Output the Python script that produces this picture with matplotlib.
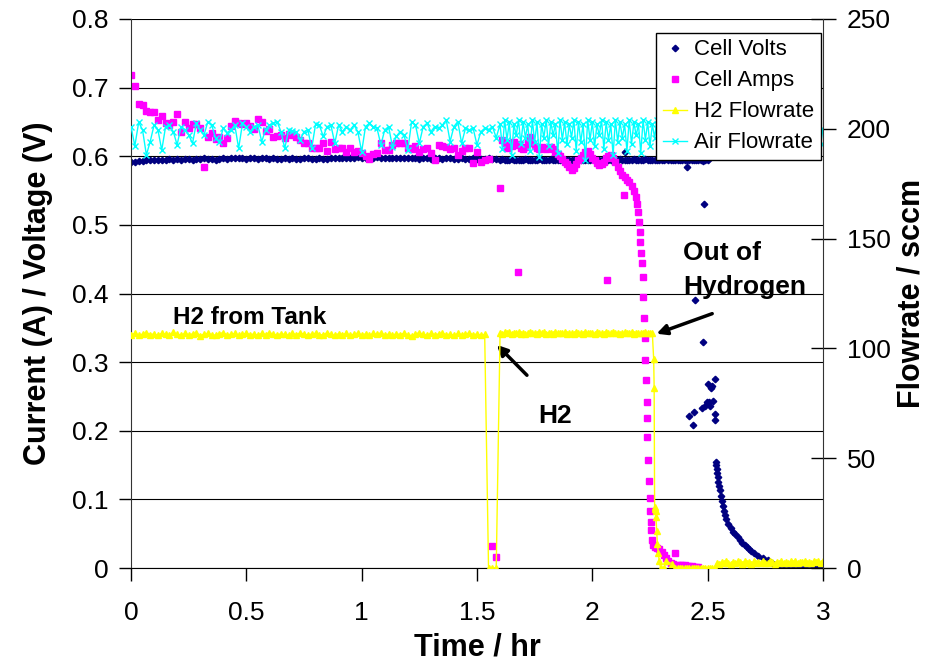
import numpy as np
import matplotlib
matplotlib.use('Agg')
import matplotlib.pyplot as plt

plt.rcParams['font.family'] = ['Liberation Sans', 'DejaVu Sans']

# ---- data ----
# logger: 1-minute samples until 1.6 hr, then faster samples
t_slow = np.arange(96) / 60.0
t_fast = np.round(np.arange(1.60, 3.0001, 0.01), 2)

volts_slow = [0.591, 0.592, 0.593, 0.593, 0.594, 0.594, 0.595, 0.594, 0.595, 0.595,
              0.596, 0.595, 0.596, 0.595, 0.596, 0.596, 0.595, 0.596, 0.596, 0.597,
              0.596, 0.596, 0.595, 0.596, 0.597, 0.596, 0.597, 0.597, 0.598, 0.597,
              0.596, 0.597, 0.597, 0.596, 0.597, 0.597, 0.596, 0.597, 0.596, 0.596,
              0.597, 0.596, 0.597, 0.596, 0.596, 0.597, 0.597, 0.596, 0.596, 0.597,
              0.596, 0.596, 0.597, 0.598, 0.597, 0.598, 0.598, 0.597, 0.598, 0.599,
              0.598, 0.598, 0.597, 0.598, 0.599, 0.598, 0.597, 0.597, 0.598, 0.598,
              0.597, 0.597, 0.598, 0.597, 0.597, 0.596, 0.597, 0.597, 0.596, 0.597,
              0.597, 0.596, 0.597, 0.597, 0.596, 0.596, 0.597, 0.596, 0.596, 0.597,
              0.596, 0.596, 0.596, 0.597, 0.596, 0.596]
volts_fast = [0.595, 0.596, 0.595, 0.594, 0.595, 0.596, 0.595, 0.595, 0.594, 0.595,
              0.595, 0.596, 0.595, 0.595, 0.594, 0.595, 0.595, 0.596, 0.595, 0.594,
              0.595, 0.595, 0.596, 0.595, 0.595, 0.594, 0.595, 0.596, 0.595, 0.595,
              0.595, 0.594, 0.595, 0.595, 0.596, 0.595, 0.595, 0.594, 0.595, 0.595,
              0.596, 0.595, 0.595, 0.594, 0.595, 0.596, 0.595, 0.595, 0.594, 0.595,
              0.595, 0.595, 0.596, 0.595, 0.595, 0.594, 0.595, 0.595, 0.596, 0.595,
              0.594, 0.595, 0.595, 0.596, 0.595, 0.594, 0.595, 0.595, 0.595, 0.594,
              0.595, 0.595, 0.596, 0.595, 0.594, 0.595, 0.595, 0.594, 0.595, 0.595,
              0.594, 0.595, 0.595, 0.594, 0.595, 0.594, 0.595, 0.594, 0.593, 0.594,
              0.594]
volts_odd_t = [2.14, 2.41, 2.417, 2.438, 2.44, 2.445, 2.477, 2.48, 2.482, 2.49,
               2.495, 2.50, 2.505, 2.51, 2.515, 2.52, 2.525, 2.53, 2.53, 2.533]
volts_odd_v = [0.606, 0.585, 0.222, 0.208, 0.227, 0.390, 0.233, 0.330, 0.530, 0.236,
               0.242, 0.268, 0.242, 0.236, 0.262, 0.265, 0.244, 0.225, 0.215, 0.275]
volts_decay_t = [2.535, 2.537, 2.539, 2.541, 2.543, 2.546, 2.549, 2.552, 2.556, 2.560,
                 2.565, 2.570, 2.575, 2.580, 2.590, 2.600, 2.610, 2.620, 2.630, 2.640,
                 2.650, 2.660, 2.670, 2.680, 2.690, 2.700, 2.720, 2.740, 2.760, 2.780,
                 2.800, 2.820, 2.840, 2.860, 2.880, 2.900, 2.920, 2.940, 2.960, 2.980, 3.000]
volts_decay_v = [0.155, 0.150, 0.144, 0.138, 0.133, 0.126, 0.119, 0.113, 0.105, 0.098,
                 0.090, 0.083, 0.077, 0.072, 0.064, 0.058, 0.053, 0.049, 0.045, 0.041,
                 0.037, 0.034, 0.030, 0.027, 0.025, 0.022, 0.018, 0.014, 0.011, 0.008,
                 0.005, 0.003, 0.001, 0.000, 0.000, 0.000, 0.000, 0.000, 0.000, 0.000, 0.000]

amps_slow = [0.719, 0.703, 0.676, 0.675, 0.666, 0.665, 0.665, 0.653, 0.659, 0.649,
             0.646, 0.650, 0.662, 0.636, 0.650, 0.641, 0.647, 0.647, 0.641, 0.585,
             0.628, 0.634, 0.625, 0.628, 0.620, 0.627, 0.644, 0.652, 0.649, 0.647,
             0.649, 0.644, 0.640, 0.655, 0.650, 0.637, 0.640, 0.628, 0.630, 0.631,
             0.627, 0.633, 0.631, 0.628, 0.624, 0.620, 0.620, 0.612, 0.612, 0.612,
             0.620, 0.608, 0.621, 0.611, 0.612, 0.612, 0.606, 0.612, 0.606, 0.608,
             0.605, 0.600, 0.596, 0.603, 0.605, 0.620, 0.609, 0.609, 0.617, 0.620,
             0.620, 0.620, 0.612, 0.610, 0.615, 0.606, 0.611, 0.612, 0.605, 0.595,
             0.617, 0.615, 0.614, 0.611, 0.612, 0.602, 0.608, 0.612, 0.612, 0.590,
             0.606, 0.592, 0.595, 0.596, 0.032, 0.016]
amps_fast_t = [1.60, 1.61, 1.62, 1.63, 1.64, 1.65, 1.66, 1.67, 1.677, 1.68,
               1.69, 1.70, 1.71, 1.72, 1.73, 1.74, 1.75, 1.76, 1.77, 1.78,
               1.79, 1.80, 1.81, 1.82, 1.83, 1.84, 1.85, 1.86, 1.87, 1.88,
               1.89, 1.90, 1.91, 1.92, 1.93, 1.94, 1.95, 1.96, 1.97, 1.98,
               1.99, 2.00, 2.01, 2.02, 2.03, 2.04, 2.05, 2.06, 2.062, 2.07,
               2.08, 2.09, 2.10, 2.11, 2.12, 2.13, 2.136, 2.14, 2.15, 2.16,
               2.17, 2.18, 2.19, 2.195, 2.200, 2.203, 2.206, 2.208, 2.211, 2.214,
               2.218, 2.221, 2.226, 2.228, 2.230, 2.233, 2.235, 2.236, 2.239, 2.243,
               2.246, 2.248, 2.251, 2.253, 2.255, 2.257, 2.262, 2.27, 2.28, 2.29,
               2.30, 2.31, 2.32, 2.33, 2.34, 2.35, 2.36, 2.37, 2.38, 2.39,
               2.40, 2.41, 2.42, 2.43, 2.44, 2.45, 2.46]
amps_fast_v = [0.554, 0.624, 0.620, 0.612, 0.620, 0.615, 0.621, 0.616, 0.431, 0.618,
               0.612, 0.610, 0.614, 0.620, 0.628, 0.619, 0.615, 0.612, 0.610, 0.614,
               0.612, 0.610, 0.612, 0.614, 0.610, 0.606, 0.604, 0.600, 0.596, 0.592,
               0.588, 0.584, 0.580, 0.583, 0.588, 0.594, 0.598, 0.602, 0.606, 0.608,
               0.604, 0.598, 0.594, 0.590, 0.587, 0.588, 0.592, 0.597, 0.420, 0.601,
               0.602, 0.598, 0.592, 0.585, 0.578, 0.572, 0.544, 0.570, 0.566, 0.563,
               0.557, 0.550, 0.540, 0.530, 0.519, 0.504, 0.490, 0.475, 0.459, 0.445,
               0.424, 0.395, 0.364, 0.335, 0.303, 0.274, 0.242, 0.219, 0.191, 0.157,
               0.127, 0.102, 0.083, 0.067, 0.055, 0.041, 0.033, 0.030, 0.029, 0.027,
               0.024, 0.019, 0.014, 0.010, 0.007, 0.006, 0.022, 0.005, 0.005, 0.004,
               0.004, 0.003, 0.003, 0.003, 0.002, 0.002, 0.002]

h2_slow = [106.2, 106.8, 106.0, 106.5, 107.2, 106.3, 106.6, 105.9, 106.9, 106.4,
           106.1, 107.3, 106.5, 106.0, 106.8, 106.2, 106.6, 107.1, 105.8, 106.5,
           106.9, 106.3, 106.0, 106.7, 107.2, 106.1, 106.5, 106.8, 105.9, 106.4,
           107.0, 106.2, 106.6, 106.0, 106.9, 106.3, 107.2, 106.5, 106.1, 106.7,
           106.4, 105.9, 106.8, 106.2, 107.1, 106.5, 106.0, 106.6, 106.9, 106.3,
           106.1, 107.2, 106.4, 105.9, 106.7, 106.3, 106.8, 106.0, 106.5, 107.0,
           106.2, 106.6, 105.9, 106.8, 106.4, 107.1, 106.1, 106.5, 106.0, 106.7,
           106.3, 106.9, 106.2, 105.8, 106.6, 107.2, 106.4, 106.0, 106.8, 106.3,
           106.5, 107.0, 106.1, 106.6, 105.9, 106.8, 106.3, 106.5, 107.1, 106.2,
           106.6, 106.0, 106.4, 0.0, 0.0, 0.0]
h2_fast = [107.0, 106.5, 107.3, 106.8, 107.5, 106.6, 107.1, 106.9, 107.4, 106.7,
           107.2, 106.5, 107.0, 107.6, 106.8, 107.1, 106.6, 107.3, 106.9, 107.4,
           106.7, 107.2, 107.0, 106.5, 107.5, 106.8, 107.1, 106.9, 107.3, 106.6,
           107.2, 107.0, 106.7, 107.4, 106.9, 107.1, 106.5, 107.3, 106.8, 107.2,
           107.0, 106.6, 107.5, 106.9, 107.1, 106.7, 107.3, 107.0, 106.8, 107.4,
           106.9, 107.2, 106.6, 107.1, 107.3, 106.8, 107.0, 107.4, 106.7, 107.2,
           106.9, 107.1, 106.8, 107.3, 107.0, 106.9, 107.2]
h2_drop_t = [2.266, 2.268, 2.270, 2.272, 2.274, 2.276, 2.279, 2.282, 2.286, 2.290,
             2.296, 2.31, 2.32, 2.345, 2.36]
h2_drop_v = [95, 82, 28, 27, 26, 23, 17, 11, 7, 3, 0, 0, 3, 2, 0]
h2_tail = [0.0] * 17 + [2.4, 1.8, 2.9, 2.1, 3.2, 2.5, 1.9, 2.8, 2.2, 3.0,
                        2.6, 2.0, 3.3, 2.3, 2.7, 1.9, 3.1, 2.4, 2.8, 2.2,
                        3.0, 2.5, 2.1, 3.4, 2.6, 2.0, 2.9, 2.4, 3.2, 2.3,
                        2.7, 2.1, 3.0, 2.5, 3.3, 2.2, 2.8, 2.6, 3.1, 2.4,
                        2.9, 2.3, 3.4, 2.7, 3.0, 2.5, 3.2]

air_slow = [201.0, 192.2, 203.0, 199.5, 188.1, 194.2, 201.7, 199.5, 190.3, 201.0,
            201.7, 198.7, 192.7, 201.0, 199.5, 197.2, 193.4, 202.5, 199.5, 197.2,
            203.3, 201.7, 195.7, 194.2, 200.2, 198.3, 199.5, 201.7, 191.1, 202.5,
            201.0, 198.7, 201.0, 201.7, 194.2, 199.5, 201.7, 202.5, 203.3, 198.7,
            191.1, 199.5, 199.2, 198.7, 194.9, 198.7, 199.5, 191.1, 202.0, 201.7,
            196.5, 201.0, 201.7, 193.4, 201.7, 198.7, 201.0, 199.5, 201.7, 198.7,
            189.6, 201.0, 202.5, 201.0, 200.2, 192.7, 199.5, 201.0, 191.9, 196.5,
            198.7, 197.2, 190.3, 203.3, 201.7, 193.4, 201.0, 202.5, 198.7, 201.0,
            200.2, 201.7, 204.0, 194.2, 201.0, 203.3, 193.4, 200.2, 199.5, 200.2,
            192.7, 198.7, 200.2, 199.5, 201.0, 196.0]
air_fast = [202, 191, 204, 195, 203, 188, 202, 197, 204, 193,
            203, 196, 202, 190, 204, 194, 203, 187, 202, 196,
            204, 192, 203, 197, 202, 189, 204, 195, 203, 193,
            202, 196, 204, 190, 203, 194, 202, 186, 204, 195,
            203, 192, 202, 197, 204, 191, 203, 195, 202, 188,
            204, 194, 203, 196, 202, 190, 204, 193, 203, 197,
            202, 189, 204, 195, 203, 192, 202, 196, 204, 187,
            203, 194, 202, 197, 204, 191, 203, 195, 202, 193,
            204, 190, 203, 196, 202, 194, 204, 188, 203, 195,
            202, 192, 204, 197, 203, 190, 202, 195, 204, 193,
            203, 196, 202, 189, 204, 194, 203, 192, 202, 197,
            204, 191, 203, 195, 202, 193, 204, 188, 203, 196,
            202, 194, 204, 190, 203, 197, 202, 193, 204, 195,
            203, 189, 202, 196, 204, 192, 203, 195, 202, 193,
            200]

x_ticks = [0, 0.5, 1, 1.5, 2, 2.5, 3]
x_labels = ['0', '0.5', '1', '1.5', '2', '2.5', '3']
y_ticks = [0, 0.1, 0.2, 0.3, 0.4, 0.5, 0.6, 0.7, 0.8]
y_labels = ['0', '0.1', '0.2', '0.3', '0.4', '0.5', '0.6', '0.7', '0.8']
y2_ticks = [0, 50, 100, 150, 200, 250]

# ---- assemble series ----
volts_t = np.concatenate([t_slow, t_fast[:91], volts_odd_t, volts_decay_t])
volts_v = np.concatenate([volts_slow, volts_fast, volts_odd_v, volts_decay_v])
amps_t = np.concatenate([t_slow, amps_fast_t])
amps_v = np.concatenate([amps_slow, amps_fast_v])
h2_t = np.concatenate([t_slow, t_fast[:67], h2_drop_t, t_fast[77:]])
h2_v = np.concatenate([h2_slow, h2_fast, h2_drop_v, h2_tail])
air_t = np.concatenate([t_slow, t_fast])
air_v = np.concatenate([air_slow, air_fast])

fig = plt.figure(figsize=(9.25, 6.62), dpi=100)
ax1 = fig.add_axes([131/925, 94/662, 692/925, 549/662])
ax2 = ax1.twinx()

l1, = ax1.plot(volts_t, volts_v, ls='none', marker='D', ms=3.3, color='#000080', label='Cell Volts')
l2, = ax1.plot(amps_t, amps_v, ls='none', marker='s', ms=3.8, color='#FF00FF', label='Cell Amps')
l3, = ax2.plot(h2_t, h2_v, color='#FFFF00', lw=1, marker='^', ms=4, label='H2 Flowrate')
l4, = ax2.plot(air_t, air_v, color='#00FFFF', lw=1, marker='x', ms=4, mew=1, label='Air Flowrate')

ax1.set_xlim(0, 3)
ax1.set_ylim(0, 0.8)
ax2.set_ylim(0, 250)
ax1.set_xticks(x_ticks)
ax1.set_xticklabels(x_labels)
ax1.set_yticks(y_ticks)
ax1.set_yticklabels(y_labels)
ax2.set_yticks(y2_ticks)

ax1.yaxis.grid(True, color='black', lw=0.8)
ax1.set_axisbelow(True)
for s in ['top', 'right']:
    ax1.spines[s].set_visible(False)
for s in ['top', 'left', 'bottom']:
    ax2.spines[s].set_visible(False)
ax1.spines['left'].set_color('#333333')
ax2.spines['right'].set_color('#333333')

ax1.tick_params(axis='both', direction='out', length=9, width=1, labelsize=19)
ax1.tick_params(axis='y', pad=7)
ax1.tick_params(axis='x', pad=15)
ax2.tick_params(axis='y', direction='inout', length=18, width=1, labelsize=19, pad=8)

ax1.set_xlabel('Time / hr', fontsize=22, fontweight='bold', labelpad=5)
ax1.set_ylabel('Current (A) / Voltage (V)', fontsize=22, fontweight='bold', labelpad=14)
ax2.set_ylabel('Flowrate / sccm', fontsize=22, fontweight='bold', labelpad=4)

ax1.text(0.182, 0.356, 'H2 from Tank', fontsize=17.5, fontweight='bold')
ax1.text(2.393, 0.449, 'Out of', fontsize=19, fontweight='bold')
ax1.text(2.393, 0.399, 'Hydrogen', fontsize=19, fontweight='bold')
ax1.text(1.764, 0.211, 'H2', fontsize=19, fontweight='bold')
ax1.annotate('', xy=(1.578, 0.328), xytext=(1.725, 0.278),
             arrowprops=dict(arrowstyle='-|>', lw=2.5, color='black', mutation_scale=15))
ax1.annotate('', xy=(2.267, 0.340), xytext=(2.531, 0.372),
             arrowprops=dict(arrowstyle='-|>', lw=2.5, color='black', mutation_scale=15))

leg = ax2.legend(handles=[l1, l2, l3, l4], loc='upper right', bbox_to_anchor=(0.997, 0.975),
                 borderaxespad=0, fontsize=16, fancybox=False, edgecolor='black', framealpha=1,
                 handlelength=1.1, handletextpad=0.3, labelspacing=0.45, borderpad=0.3)
leg.get_frame().set_linewidth(1)

fig.savefig('out.png', dpi=100)
